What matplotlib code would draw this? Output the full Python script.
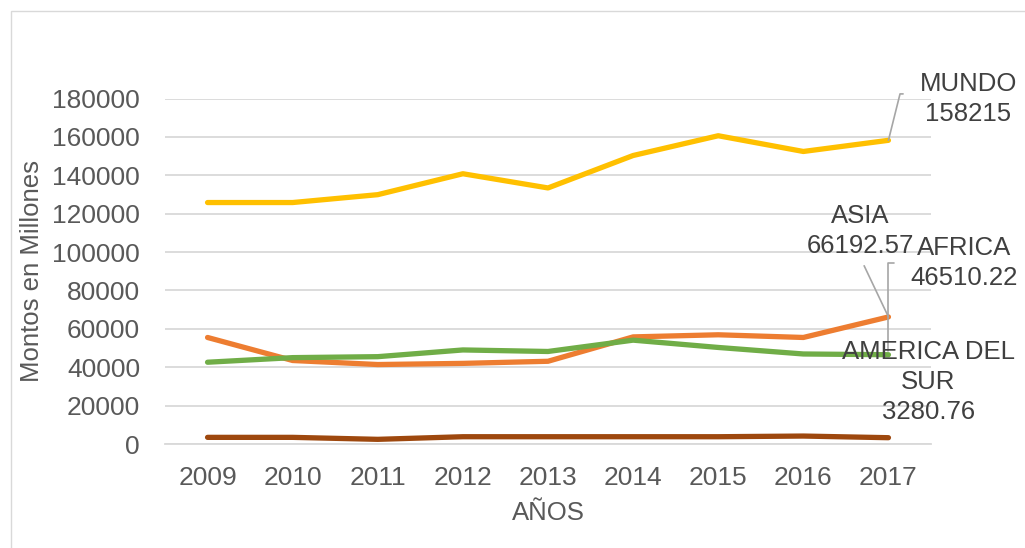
import matplotlib
matplotlib.use("Agg")
import matplotlib.pyplot as plt
from matplotlib.patches import Rectangle

years = ["2009", "2010", "2011", "2012", "2013", "2014", "2015", "2016", "2017"]
mundo = [125800, 125800, 129900, 140800, 133400, 150300, 160600, 152400, 158215]
asia = [55500, 43500, 41400, 42000, 43100, 55800, 56900, 55500, 66192.57]
africa = [42600, 45000, 45500, 49000, 48200, 54100, 50300, 46900, 46510.22]
am_sur = [3460, 3460, 2430, 3790, 3790, 3790, 3790, 4140, 3280.76]
yticks = [0, 20000, 40000, 60000, 80000, 100000, 120000, 140000, 160000, 180000]

plt.rcParams['font.family'] = ['Liberation Sans', 'DejaVu Sans']

W, H = 1025, 548
fig = plt.figure(figsize=(W / 100, H / 100), dpi=100)
ax = fig.add_axes([165 / W, 1 - 444 / H, (931 - 165) / W, (444 - 98.5) / H])

x = list(range(len(years)))
series = [
    ("MUNDO", mundo, "#FFC000"),
    ("ASIA", asia, "#ED7D31"),
    ("AFRICA", africa, "#70AD47"),
    ("AMERICA DEL\nSUR", am_sur, "#9E480E"),
]
for name, vals, col in series:
    ax.plot(x, vals, color=col, lw=3.8, solid_capstyle='round', solid_joinstyle='round', zorder=3)

ax.set_xlim(-0.5, len(years) - 0.5)
ax.set_ylim(0, 180000)
ax.set_yticks(yticks)
ax.set_yticklabels([str(v) for v in yticks])
ax.set_xticks(x)
ax.set_xticklabels(years)
ax.grid(axis='y', color='#D9D9D9', lw=1.3)
ax.set_axisbelow(True)
for s in ['left', 'right', 'top']:
    ax.spines[s].set_visible(False)
ax.spines['bottom'].set_color('#D9D9D9')
ax.spines['bottom'].set_linewidth(1.3)
ax.tick_params(axis='both', length=0, labelsize=19, labelcolor='#595959')
ax.tick_params(axis='y', pad=18)
ax.tick_params(axis='x', pad=16)
ax.set_xlabel("AÑOS", fontsize=18.5, color='#595959', labelpad=8)
ax.set_ylabel("Montos en Millones", fontsize=18.5, color='#595959', labelpad=6)

lab_kw = dict(fontsize=18.5, color='#404040', ha='center', va='center',
              linespacing=1.32, textcoords='offset points', annotation_clip=False)
px = 0.72
# MUNDO
ax.annotate(f"MUNDO\n{mundo[-1]:g}", xy=(8, mundo[-1]),
            xytext=((968 - 888) * px, (139 - 98) * px),
            arrowprops=dict(arrowstyle='-', color='#A6A6A6', lw=1.2,
                            connectionstyle='angle,angleA=0,angleB=76,rad=0',
                            relpos=(0.0, 0.6), shrinkA=10, shrinkB=0),
            **lab_kw)
# ASIA
ax.annotate(f"ASIA\n{asia[-1]:.2f}", xy=(8, asia[-1]),
            xytext=((860 - 888) * px, (316 - 230) * px),
            arrowprops=dict(arrowstyle='-', color='#A6A6A6', lw=1.2,
                            relpos=(0.5, 0.0), shrinkA=4, shrinkB=0),
            **lab_kw)
# AFRICA
ax.annotate(f"AFRICA\n{africa[-1]:.2f}", xy=(8, africa[-1]),
            xytext=((964 - 888) * px, (354 - 262) * px),
            arrowprops=dict(arrowstyle='-', color='#A6A6A6', lw=1.2,
                            connectionstyle='angle,angleA=0,angleB=90,rad=0',
                            relpos=(0.0, 0.5), shrinkA=10, shrinkB=3),
            **lab_kw)
# AMERICA DEL SUR
ax.annotate(f"AMERICA DEL\nSUR\n{am_sur[-1]:.2f}", xy=(8, am_sur[-1]),
            xytext=((928 - 888) * px, (437 - 381) * px),
            **lab_kw)

# chart border
fig.patches.append(Rectangle((11 / W, -0.1), 1.2, 1 - 11 / H + 0.1,
                             transform=fig.transFigure, fill=False,
                             edgecolor='#D9D9D9', lw=1.0))

fig.savefig("out.png", dpi=100)
